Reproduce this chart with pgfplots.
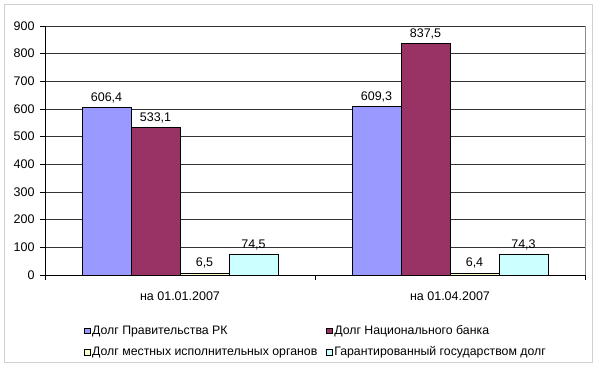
\documentclass[border=0pt]{standalone}
\usepackage{pgfplots}
\pgfplotsset{compat=1.18}
\usepackage{fontspec}
\setmainfont{Liberation Sans}
\definecolor{cA}{HTML}{9999FF}
\definecolor{cB}{HTML}{993366}
\definecolor{cC}{HTML}{FFFFCC}
\definecolor{cD}{HTML}{CCFFFF}
\begin{document}
\begin{tikzpicture}[x=1pt,y=1pt]
\useasboundingbox (0,0) rectangle (600,370);
\draw[black!18, line width=1pt] (4.5,7.5) rectangle (592.5,365.5);
\begin{axis}[
  at={(45pt,95pt)}, anchor=south west,
  scale only axis, width=540pt, height=249pt,
  ymin=0, ymax=900, ytick={0,100,...,900},
  xmin=-0.5, xmax=1.5,
  xtick={0,1}, xticklabels={на 01.01.2007, на 01.04.2007},
  minor xtick={-0.5,0.5,1.5},
  major x tick style={draw=none},
  minor tick length=5pt, major tick length=5pt,
  tick align=outside,
  axis x line*=bottom, axis y line*=left,
  axis line style={black, line width=0.8pt},
  tick style={black, line width=0.8pt},
  ymajorgrids, grid style={black!80, line width=0.8pt},
  ticklabel style={font=\fontsize{12.5}{15}\selectfont},
  /pgf/number format/assume math mode=true,
  yticklabel style={xshift=-2pt},
  xticklabel style={yshift=-8pt},
  ybar=0pt, bar width=49pt,
  every axis plot/.append style={draw=black, line width=0.6pt},
  nodes near coords={\pgfmathprintnumber[fixed,fixed zerofill,precision=1,use comma]{\pgfplotspointmeta}},
  every node near coord/.append style={font=\fontsize{12.5}{15}\selectfont, text=black, yshift=1pt},
  every axis plot post/.append style={legend image code/.code={\draw[#1, line width=0.5pt] (0pt,-2.8pt) rectangle (5.5pt,2.8pt);}},
  legend columns=2,
  legend cell align=left,
  legend style={draw=none, fill=none, at={(0.0722,-0.267)}, anchor=west, inner xsep=0pt,
    font=\fontsize{12.3}{14}\selectfont,
    /tikz/every even column/.append style={column sep=7pt},
    row sep=6.5pt},
  clip=false,
]
\addplot[fill=cA] coordinates {(0,606.4) (1,609.3)};
\addplot[fill=cB] coordinates {(0,533.1) (1,837.5)};
\addplot[fill=cC] coordinates {(0,6.5) (1,6.4)};
\addplot[fill=cD] coordinates {(0,74.5) (1,74.3)};
\legend{Долг Правительства РК, Долг Национального банка, Долг местных исполнительных органов, Гарантированный государством долг}
\draw[black!45, line width=0.8pt] (rel axis cs:1,0) -- (rel axis cs:1,1);
\end{axis}
\end{tikzpicture}
\end{document}
